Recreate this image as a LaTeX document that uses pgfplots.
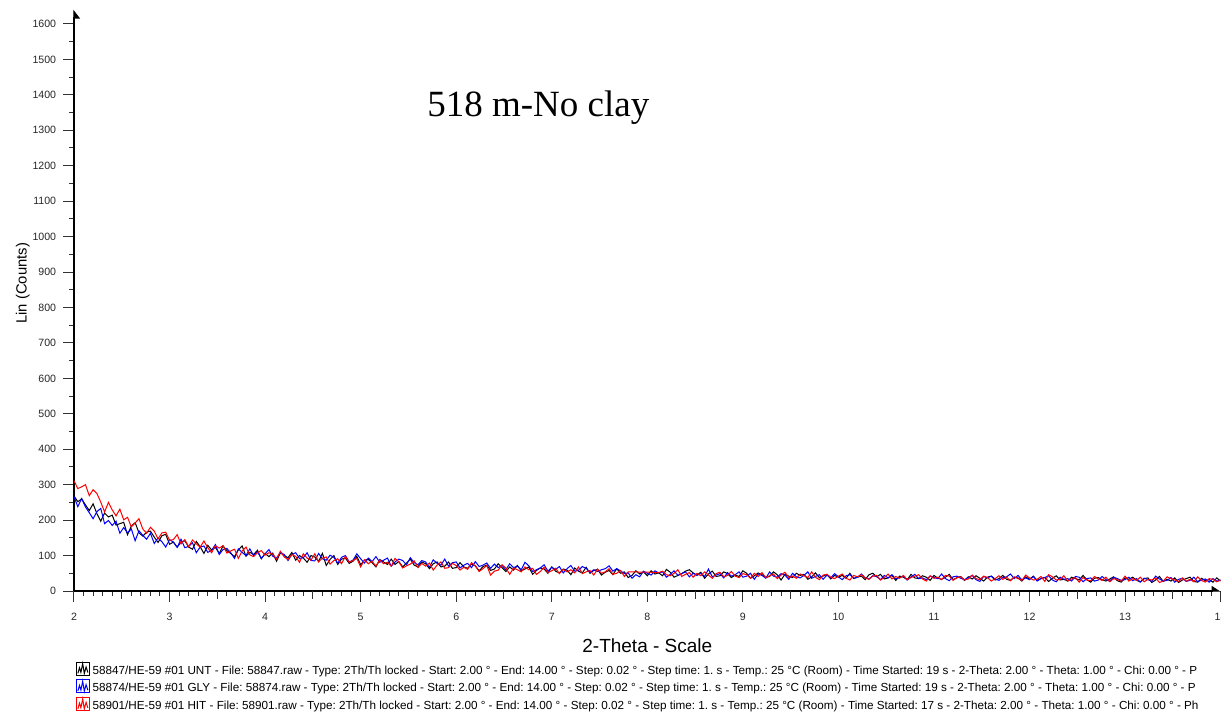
\documentclass[border=0pt]{standalone}
\usepackage{fontspec}
\setmainfont{Liberation Sans}
\newfontfamily\seriffont{Liberation Serif}
\usepackage{pgfplots}
\pgfplotsset{compat=1.18}
\usepackage{pgfplotstable}
\usetikzlibrary{arrows.meta}

\pgfplotstableread{
x K B R
2.00 268 266 311
2.04 252 238 289
2.08 260 261 294
2.12 243 237 300
2.16 227 221 269
2.20 246 204 286
2.24 218 224 275
2.28 197 233 251
2.32 220 190 223
2.36 209 199 250
2.40 214 185 229
2.44 186 197 212
2.48 190 163 231
2.52 194 179 201
2.56 159 164 208
2.60 183 175 181
2.64 193 142 192
2.68 164 170 204
2.72 155 157 175
2.76 166 146 163
2.80 169 163 180
2.84 152 134 169
2.88 137 150 147
2.92 156 139 164
2.96 160 124 166
3.00 132 145 143
3.04 138 138 145
3.08 124 123 159
3.12 138 146 133
3.16 142 122 145
3.20 124 126 125
3.24 118 136 144
3.28 140 108 133
3.32 125 124 124
3.36 106 127 141
3.40 129 109 122
3.44 116 115 108
3.48 123 131 128
3.52 106 103 121
3.56 127 117 128
3.60 114 120 107
3.64 106 108 113
3.68 97 92 118
3.72 116 119 92
3.76 127 109 113
3.80 98 100 124
3.84 109 119 102
3.88 103 100 97
3.92 115 111 108
3.96 91 92 114
4.00 106 105 101
4.04 97 117 108
4.08 107 98 104
4.12 84 93 90
4.16 108 109 112
4.20 100 103 96
4.24 94 86 89
4.28 109 103 103
4.32 87 108 98
4.36 100 92 81
4.40 93 94 105
4.44 81 108 93
4.48 100 86 87
4.52 96 85 105
4.56 84 106 82
4.60 106 91 93
4.64 72 87 96
4.68 89 101 76
4.72 100 95 86
4.76 75 78 91
4.80 90 95 77
4.84 93 100 98
4.88 78 82 81
4.92 84 87 86
4.96 98 105 92
5.00 74 91 68
5.04 87 79 88
5.08 89 93 77
5.12 80 83 84
5.16 68 97 70
5.20 89 81 88
5.24 82 87 77
5.28 75 93 81
5.32 90 70 70
5.36 75 82 92
5.40 83 90 82
5.44 68 86 65
5.48 79 74 71
5.52 90 94 76
5.56 73 80 85
5.60 68 74 66
5.64 82 86 78
5.68 77 82 70
5.72 63 67 79
5.76 77 88 59
5.80 82 78 73
5.84 68 73 82
5.88 70 90 64
5.92 82 70 66
5.96 64 80 78
6.00 66 82 72
6.04 80 65 59
6.08 68 73 67
6.12 64 78 61
6.16 76 66 80
6.20 71 83 71
6.24 57 69 55
6.28 69 73 63
6.32 73 79 72
6.36 58 64 45
6.40 62 76 56
6.44 77 66 59
6.48 66 72 74
6.52 55 60 65
6.56 68 77 47
6.60 59 66 65
6.64 72 70 60
6.68 57 60 54
6.72 62 81 68
6.76 68 71 60
6.80 47 55 64
6.84 58 60 47
6.88 65 65 55
6.92 62 74 67
6.96 50 56 52
7.00 68 67 57
7.04 56 61 64
7.08 51 69 49
7.12 62 51 61
7.16 59 63 54
7.20 46 72 60
7.24 65 56 51
7.28 56 58 68
7.32 51 69 49
7.36 67 64 54
7.40 50 52 58
7.44 58 60 45
7.48 61 55 62
7.52 45 60 50
7.56 53 63 54
7.60 58 71 63
7.64 46 56 47
7.68 63 63 50
7.72 50 57 58
7.76 54 49 41
7.80 38 51 54
7.84 44 36 54
7.88 57 46 54
7.92 48 40 53
7.96 54 56 53
8.00 43 50 53
8.04 57 45 53
8.08 48 57 52
8.12 51 51 52
8.16 43 54 56
8.20 61 39 46
8.24 53 47 43
8.28 39 57 50
8.32 44 44 60
8.36 49 49 41
8.40 56 54 47
8.44 60 40 52
8.48 51 50 39
8.52 45 44 50
8.56 53 50 43
8.60 36 41 54
8.64 48 62 45
8.68 56 40 36
8.72 41 45 49
8.76 43 49 53
8.80 54 37 40
8.84 49 52 44
8.88 38 42 55
8.92 45 46 42
8.96 41 54 38
9.00 57 39 49
9.04 50 42 46
9.08 36 50 36
9.12 43 33 50
9.16 51 48 41
9.20 46 44 52
9.24 38 36 38
9.28 41 54 43
9.32 54 42 48
9.36 46 39 35
9.40 31 49 45
9.44 47 45 53
9.48 42 33 38
9.52 38 50 42
9.56 50 40 36
9.60 44 37 48
9.64 47 44 43
9.68 33 54 38
9.72 40 36 54
9.76 51 41 39
9.80 38 46 32
9.84 42 33 45
9.88 47 45 47
9.92 34 37 39
9.96 44 49 35
10.00 39 40 42
10.04 44 32 48
10.08 36 43 36
10.12 50 46 31
10.16 35 36 44
10.20 39 39 40
10.24 42 48 46
10.28 32 37 37
10.32 46 34 33
10.36 50 43 42
10.40 40 41 44
10.44 47 32 31
10.48 34 44 38
10.52 37 37 48
10.56 44 46 34
10.60 30 34 41
10.64 42 38 36
10.68 39 42 44
10.72 32 31 32
10.76 47 40 38
10.80 37 47 42
10.84 35 35 46
10.88 43 37 34
10.92 39 32 28
10.96 30 42 43
11.00 44 38 36
11.04 36 35 39
11.08 33 48 32
11.12 39 35 44
11.16 47 29 42
11.20 32 40 30
11.24 37 42 38
11.28 41 36 40
11.32 30 32 31
11.36 40 38 34
11.40 34 44 45
11.44 43 32 35
11.48 36 27 32
11.52 28 41 42
11.56 39 37 38
11.60 42 42 28
11.64 31 34 35
11.68 35 30 43
11.72 44 38 33
11.76 33 40 39
11.80 30 48 29
11.84 39 35 40
11.88 37 44 35
11.92 28 31 30
11.96 40 37 45
12.00 33 32 37
12.04 42 41 31
12.08 30 28 33
12.12 35 35 41
12.16 38 38 27
12.20 27 43 46
12.24 36 31 40
12.28 43 26 31
12.32 31 39 33
12.36 33 33 43
12.40 28 35 28
12.44 39 28 34
12.48 35 41 38
12.52 31 39 25
12.56 44 26 38
12.60 32 35 31
12.64 25 37 29
12.68 36 28 41
12.72 38 31 34
12.76 32 41 30
12.80 28 32 39
12.84 34 28 26
12.88 40 39 35
12.92 29 35 32
12.96 25 30 28
13.00 37 32 42
13.04 33 39 28
13.08 39 29 35
13.12 30 35 30
13.16 26 25 39
13.20 35 36 26
13.24 37 32 33
13.28 24 27 31
13.32 31 42 37
13.36 41 34 24
13.40 27 28 28
13.44 33 30 40
13.48 28 38 35
13.52 37 25 31
13.56 24 33 27
13.60 31 36 37
13.64 35 27 28
13.68 39 30 33
13.72 27 39 26
13.76 25 26 40
13.80 36 31 30
13.84 29 34 25
13.88 32 25 35
13.92 25 35 33
13.96 37 28 26
14.00 28 31 31
}\xrddata

\begin{document}
\frenchspacing
\begin{tikzpicture}
\path[use as bounding box] (-37pt,-61pt) rectangle (575.5pt,295.5pt);
\begin{scope}
\clip (-37pt,-61pt) rectangle (573.4pt,295.5pt);
\begin{axis}[
  x=47.775pt, y=0.1772pt,
  xmin=2, xmax=14, ymin=0, ymax=1640,
  axis lines=left,
  axis line style={line width=0.6pt, black},
  x axis line style={-{Triangle[length=4pt,width=5pt,left]}},
  y axis line style={-{Triangle[length=4pt,width=6pt,right]}},
  xtick={2,3,...,14},
  ytick={0,100,...,1600},
  minor x tick num=9,
  minor y tick num=1,
  tick align=outside,
  major tick length=5.25pt,
  minor tick length=2.25pt,
  extra x ticks={2.5,3.5,...,13.5},
  extra x tick labels={},
  extra x tick style={major tick length=4pt},
  tick style={black!80, line width=0.5pt},
  tick label style={font=\fontsize{5.3}{6}\selectfont, inner sep=0pt, text=black!85},
  /pgf/number format/assume math mode=true,
  /pgf/number format/1000 sep={},
  xticklabel style={anchor=base, yshift=-9.3pt},
  yticklabel style={anchor=east, xshift=-3.5pt},
  xlabel={2-Theta - Scale},
  xlabel style={at={(axis description cs:0.5,-0.105)}, anchor=base, font=\fontsize{9.5}{11}\selectfont, inner sep=0pt},
  ylabel={Lin (Counts)},
  ylabel style={at={(axis description cs:-0.0414,0.5294)}, anchor=base, font=\fontsize{7.4}{9}\selectfont, inner sep=0pt},
  legend style={at={(axis description cs:0.00174,-0.1215)}, anchor=north west,
    draw=none, fill=none, inner sep=0pt, outer sep=0pt,
    row sep=0pt, column sep=1.3pt,
    font=\fontsize{5.85}{7}\selectfont,
    nodes={inner sep=0pt, text height=6pt, text depth=2.6pt},
    cells={anchor=base west}},
  legend image code/.code={
    \draw[#1, line width=0.5pt] (0pt,-0.5pt) rectangle (6.5pt,6pt);
    \draw[#1, line width=0.5pt] (0.7pt,0.4pt) -- (1.5pt,3.2pt) -- (2.2pt,0.9pt) -- (3.1pt,5.3pt) -- (3.9pt,0.3pt) -- (4.8pt,3.6pt) -- (5.7pt,0.8pt);
  },
]
\addplot[black, line width=0.5pt] table[x=x, y=K] {\xrddata};
\addlegendentry{58847/HE-59 \#01 UNT - File: 58847.raw - Type: 2Th/Th locked - Start: 2.00 ° - End: 14.00 ° - Step: 0.02 ° - Step time: 1. s - Temp.: 25 °C (Room) - Time Started: 19 s - 2-Theta: 2.00 ° - Theta: 1.00 ° - Chi: 0.00 ° - P}
\addplot[blue, line width=0.5pt] table[x=x, y=B] {\xrddata};
\addlegendentry{58874/HE-59 \#01 GLY - File: 58874.raw - Type: 2Th/Th locked - Start: 2.00 ° - End: 14.00 ° - Step: 0.02 ° - Step time: 1. s - Temp.: 25 °C (Room) - Time Started: 19 s - 2-Theta: 2.00 ° - Theta: 1.00 ° - Chi: 0.00 ° - P}
\addplot[red, line width=0.5pt] table[x=x, y=R] {\xrddata};
\addlegendentry{58901/HE-59 \#01 HIT - File: 58901.raw - Type: 2Th/Th locked - Start: 2.00 ° - End: 14.00 ° - Step: 0.02 ° - Step time: 1. s - Temp.: 25 °C (Room) - Time Started: 17 s - 2-Theta: 2.00 ° - Theta: 1.00 ° - Chi: 0.00 ° - Ph}
\node[anchor=base west, inner sep=0pt, font=\seriffont\fontsize{18.5}{22}\selectfont] at (axis cs:5.694,1337.5) {518 m-No clay};
\end{axis}
\end{scope}
\end{tikzpicture}
\end{document}
